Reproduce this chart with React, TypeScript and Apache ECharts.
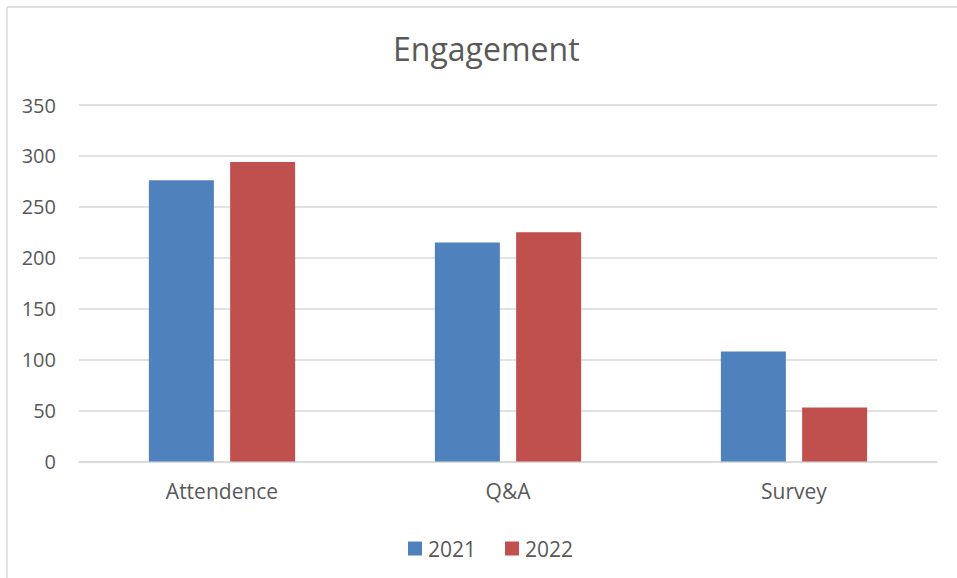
import React, { useEffect, useRef } from "react";
import * as echarts from "echarts";

const categories = ["Attendence", "Q&A", "Survey"];
const series2021 = [276, 215, 108];
const series2022 = [294, 225, 53];
const seriesNames = ["2021", "2022"];
const yTicks = { min: 0, max: 350, interval: 50 };

const FONT = "'Open Sans', 'Noto Sans', sans-serif";
const TEXT = "#595959";
const GRID = "#d9d9d9";

export default function App() {
  const ref = useRef<HTMLDivElement>(null);
  useEffect(() => {
    document.body.style.margin = "0";
    const chart = echarts.init(ref.current!, null, { renderer: "svg" });
    chart.setOption({
      animation: false,
      backgroundColor: "#ffffff",
      textStyle: { fontFamily: FONT },
      title: {
        text: "Engagement",
        left: 388,
        top: 27,
        textStyle: { fontFamily: FONT, fontSize: 32, fontWeight: "normal", color: TEXT },
      },
      graphic: [
        { type: "line", shape: { x1: 7, y1: 7, x2: 957, y2: 7 }, style: { stroke: GRID, lineWidth: 1.5 } },
        { type: "line", shape: { x1: 7, y1: 7, x2: 7, y2: 578 }, style: { stroke: GRID, lineWidth: 1.5 } },
      ],
      legend: {
        data: seriesNames,
        bottom: 14,
        left: 403,
        itemWidth: 14,
        itemHeight: 14,
        itemGap: 29,
        icon: "rect",
        textStyle: { fontFamily: FONT, fontSize: 21, color: TEXT, padding: [0, 0, 0, 1] },
      },
      grid: { left: 79, right: 20, top: 105, bottom: 116.5, containLabel: false },
      xAxis: {
        type: "category",
        data: categories,
        axisLine: { show: true, lineStyle: { color: GRID, width: 1.5 } },
        axisTick: { show: false },
        axisLabel: { fontFamily: FONT, fontSize: 21, color: TEXT, margin: 19 },
      },
      yAxis: {
        type: "value",
        min: yTicks.min,
        max: yTicks.max,
        interval: yTicks.interval,
        axisLine: { show: false },
        axisTick: { show: false },
        splitLine: { lineStyle: { color: GRID, width: 1.5 } },
        axisLabel: { fontFamily: FONT, fontSize: 20, color: TEXT, margin: 23 },
      },
      series: [
        { name: seriesNames[0], type: "bar", data: series2021, barWidth: 65, barGap: "25%", itemStyle: { color: "#4f81bd" } },
        { name: seriesNames[1], type: "bar", data: series2022, barWidth: 65, barGap: "25%", itemStyle: { color: "#c0504d" } },
      ],
    });
    return () => chart.dispose();
  }, []);
  return <div ref={ref} style={{ width: 957, height: 578 }} />;
}
